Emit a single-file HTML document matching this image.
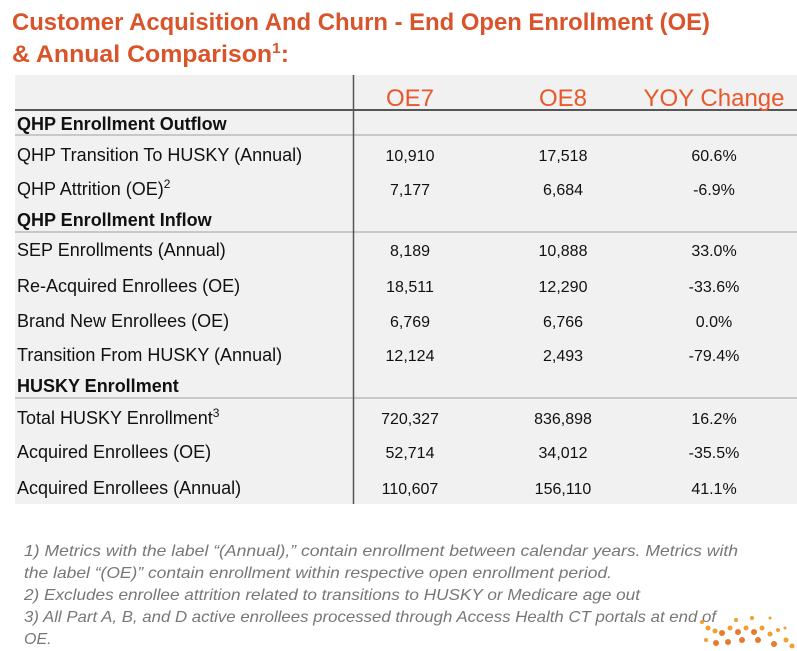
<!DOCTYPE html>
<html><head><meta charset="utf-8"><style>
html,body{margin:0;padding:0;background:#fff;}
svg{display:block;}
</style></head><body>
<svg width="797" height="651" xmlns="http://www.w3.org/2000/svg" font-family="Liberation Sans, Arial, sans-serif">
<rect x="0" y="0" width="797" height="651" fill="#fff"/>
<text x="12" y="30" font-size="24" font-weight="bold" fill="#d9532b" textLength="698" lengthAdjust="spacingAndGlyphs">Customer Acquisition And Churn - End Open Enrollment (OE)</text>
<text x="12" y="62" font-size="24" font-weight="bold" fill="#d9532b" textLength="277" lengthAdjust="spacingAndGlyphs">&amp; Annual Comparison<tspan font-size="15" dy="-9">1</tspan><tspan dy="9">:</tspan></text>
<rect x="15" y="75" width="782" height="429" fill="#f1f1f1"/>
<line x1="15" y1="110" x2="797" y2="110" stroke="#222" stroke-width="1.5"/>
<line x1="15" y1="135" x2="797" y2="135" stroke="#bbb" stroke-width="1.5"/>
<line x1="15" y1="232" x2="797" y2="232" stroke="#bbb" stroke-width="1.5"/>
<line x1="15" y1="398" x2="797" y2="398" stroke="#bbb" stroke-width="1.5"/>
<line x1="353.5" y1="75" x2="353.5" y2="504" stroke="#555" stroke-width="1.5"/>
<g font-size="24" fill="#e8582a" text-anchor="middle">
<text x="410" y="106">OE7</text><text x="563" y="106">OE8</text><text x="714" y="106">YOY Change</text>
</g>
<g font-size="18" fill="#111">
<text x="17" y="130" font-weight="bold">QHP Enrollment Outflow</text>
<text x="17" y="161">QHP Transition To HUSKY (Annual)</text>
<text x="17" y="195">QHP Attrition (OE)<tspan font-size="12" dy="-7">2</tspan></text>
<text x="17" y="226" font-weight="bold">QHP Enrollment Inflow</text>
<text x="17" y="256">SEP Enrollments (Annual)</text>
<text x="17" y="292">Re-Acquired Enrollees (OE)</text>
<text x="17" y="327">Brand New Enrollees (OE)</text>
<text x="17" y="361">Transition From HUSKY (Annual)</text>
<text x="17" y="392" font-weight="bold">HUSKY Enrollment</text>
<text x="17" y="424">Total HUSKY Enrollment<tspan font-size="12" dy="-7">3</tspan></text>
<text x="17" y="458">Acquired Enrollees (OE)</text>
<text x="17" y="494">Acquired Enrollees (Annual)</text>
</g>
<g font-size="16" fill="#111" text-anchor="middle">
<text x="410" y="161">10,910</text><text x="563" y="161">17,518</text><text x="714" y="161">60.6%</text>
<text x="410" y="195">7,177</text><text x="563" y="195">6,684</text><text x="714" y="195">-6.9%</text>
<text x="410" y="256">8,189</text><text x="563" y="256">10,888</text><text x="714" y="256">33.0%</text>
<text x="410" y="292">18,511</text><text x="563" y="292">12,290</text><text x="714" y="292">-33.6%</text>
<text x="410" y="327">6,769</text><text x="563" y="327">6,766</text><text x="714" y="327">0.0%</text>
<text x="410" y="361">12,124</text><text x="563" y="361">2,493</text><text x="714" y="361">-79.4%</text>
<text x="410" y="424">720,327</text><text x="563" y="424">836,898</text><text x="714" y="424">16.2%</text>
<text x="410" y="458">52,714</text><text x="563" y="458">34,012</text><text x="714" y="458">-35.5%</text>
<text x="410" y="494">110,607</text><text x="563" y="494">156,110</text><text x="714" y="494">41.1%</text>
</g>
<g font-size="16" font-style="italic" fill="#777">
<text x="24" y="556" textLength="714" lengthAdjust="spacingAndGlyphs">1) Metrics with the label “(Annual),” contain enrollment between calendar years. Metrics with</text>
<text x="24" y="578" textLength="588" lengthAdjust="spacingAndGlyphs">the label “(OE)” contain enrollment within respective open enrollment period.</text>
<text x="24" y="600" textLength="616" lengthAdjust="spacingAndGlyphs">2) Excludes enrollee attrition related to transitions to HUSKY or Medicare age out</text>
<text x="24" y="622" textLength="692" lengthAdjust="spacingAndGlyphs">3) All Part A, B, and D active enrollees processed through Access Health CT portals at end of</text>
<text x="24" y="644">OE.</text>
</g>
<g fill="#f0a030">
<circle cx="702" cy="622" r="2"/><circle cx="708" cy="628" r="2.5"/><circle cx="715" cy="631" r="2.5"/><circle cx="722" cy="633" r="3" fill="#e87a30"/><circle cx="730" cy="628" r="2.5"/><circle cx="738" cy="632" r="3" fill="#e87a30"/><circle cx="746" cy="628" r="2.5"/><circle cx="754" cy="632" r="3" fill="#e87a30"/><circle cx="762" cy="628" r="2.5"/><circle cx="770" cy="634" r="2.5"/><circle cx="778" cy="630" r="2"/><circle cx="786" cy="640" r="2.5"/><circle cx="736" cy="620" r="2"/><circle cx="752" cy="618" r="2"/><circle cx="770" cy="618" r="1.5"/><circle cx="785" cy="628" r="1.5"/><circle cx="716" cy="643" r="3" fill="#e87a30"/><circle cx="728" cy="642" r="3" fill="#e87a30"/><circle cx="742" cy="640" r="3" fill="#e87a30"/><circle cx="758" cy="640" r="3" fill="#e87a30"/><circle cx="774" cy="644" r="3" fill="#e87a30"/><circle cx="792" cy="646" r="2.5"/><circle cx="706" cy="640" r="2"/>
</g>
</svg>
</body></html>
